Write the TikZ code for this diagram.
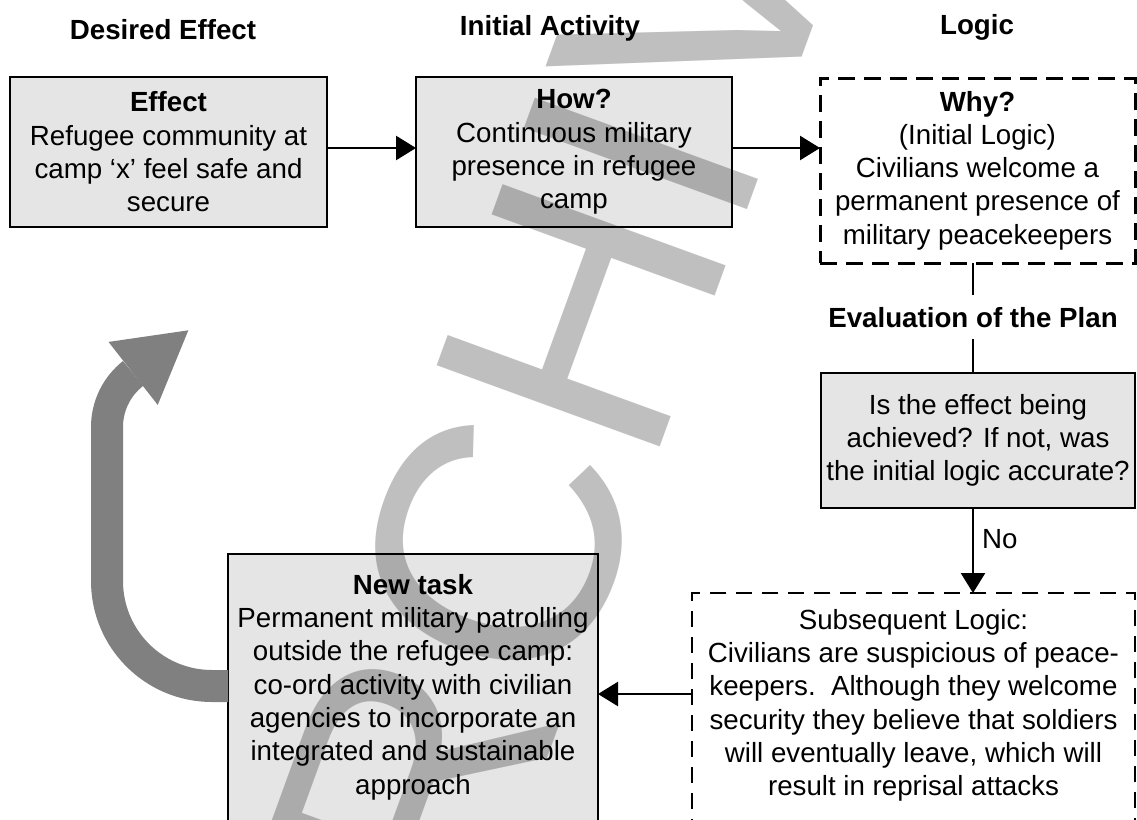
\documentclass[tikz,border=0pt]{standalone}
\usepackage{fontspec}
\setmainfont{Liberation Sans}
\usetikzlibrary{positioning, arrows.meta}
\tikzset{
    x=1pt, y=-1pt, % one unit per pixel, y runs downwards
    every node/.style={ % Text of all nodes
        font=\fontsize{27.7}{33.3}\selectfont,
        align=center
    },
    greybox/.style={ % Solid grey boxes
        draw, line width=2.5pt, fill=gray!20,
        anchor=north west, inner sep=0pt, outer sep=0pt
    },
    logicbox/.style={ % Thick dashed box
        draw, line width=3pt, fill=white, dash pattern=on 17pt off 9pt,
        anchor=north west, inner sep=0pt, outer sep=0pt
    },
    laterbox/.style={ % Thin dashed box
        draw, line width=1.8pt, fill=white, dash pattern=on 16pt off 10pt,
        anchor=north west, inner sep=0pt, outer sep=0pt
    },
    heading/.style={
        font=\fontsize{27.7}{33.3}\selectfont\bfseries,
        anchor=base
    },
    link/.style={ % Black connectors
        draw, line width=2.5pt,
        -{Triangle[length=20pt,width=24pt]}
    },
    loopshaft/.style={draw=gray, line width=32pt}
}
\begin{document}
\begin{tikzpicture}
    \useasboundingbox (0,0) rectangle (1137,819);
    \clip (0,0) rectangle (1137,819);

    % column headings
    \node[heading] (deshead) at (163,39) {Desired Effect};
    \node[heading] (acthead) at (550,35.5) {Initial Activity};
    \node[heading] (loghead) at (977,34) {Logic};

    % boxes
    \node[greybox, minimum width=317pt, minimum height=150pt] (effect) at (10,77)
        {\textbf{Effect}\\Refugee community at\\camp ‘x’ feel safe and\\secure};
    \node[greybox, minimum width=316pt, minimum height=150pt] (how) at (416,77)
        {\textbf{How?}\\Continuous military\\presence in refugee\\camp};
    \node[logicbox, minimum width=315pt, minimum height=185pt] (why) at (820,78)
        {\textbf{Why?}\\(Initial Logic)\\Civilians welcome a\\permanent presence of\\military peacekeepers};
    \node[heading, inner sep=12pt] (evallabel) at (973,327) {Evaluation of the Plan};
    \node[greybox, minimum width=314pt, minimum height=135pt] (eval) at (821,373)
        {Is the effect being\\achieved? If not, was\\the initial logic accurate?};
    \node[laterbox, minimum width=443pt, minimum height=240pt] (later) at (692,593) {};
    \node[anchor=north, inner sep=0pt] (latertext) at ([yshift=-16pt]later.north)
        {Subsequent Logic:\\Civilians are suspicious of peace-\\keepers.\ \ Although they welcome\\security they believe that soldiers\\will eventually leave, which will\\result in reprisal attacks};
    \node[greybox, minimum width=370pt, minimum height=280pt] (newtask) at (228,554) {};
    \node[anchor=north, inner sep=0pt] (newtasktext) at ([yshift=-20pt]newtask.north)
        {\textbf{New task}\\Permanent military patrolling\\outside the refugee camp:\\co-ord activity with civilian\\agencies to incorporate an\\integrated and sustainable\\approach};

    % connectors
    \draw[link] ([yshift=4pt]effect.east) -- ([yshift=4pt]how.west);
    \draw[link] ([yshift=4pt]how.east) -- ([yshift=4pt]how.east -| why.west);
    \draw[line width=2.5pt] (evallabel |- why.south) -- (evallabel.north);
    \draw[line width=2.5pt] (evallabel.south) -- (evallabel |- eval.north);
    \draw[link] (evallabel |- eval.south) -- (evallabel |- later.north);
    \node[anchor=base west, inner sep=0pt] (nolabel) at (982,548) {No};
    \draw[link] (later.west |- newtask.east) -- (newtask.east);

    % grey loop back to the effect
    \draw[loopshaft] ([yshift=8pt]newtask.west) -- ++(-16,0)
        arc[start angle=90, end angle=180, radius=105] -- ++(0,-154)
        arc[start angle=180, end angle=232, radius=68] coordinate (loopbase);
    \fill[gray] (loopbase) ++(-24.6,-31.5) -- ++(79.8,-11.6) -- ++(-30.6,74.6) -- cycle;

    % watermark
    \node[rotate=70, text=black, text opacity=0.25, inner sep=0pt,
        font=\fontsize{345}{345}\selectfont] (stamp) at (595,280) {ARCHIVED};
\end{tikzpicture}
\end{document}
